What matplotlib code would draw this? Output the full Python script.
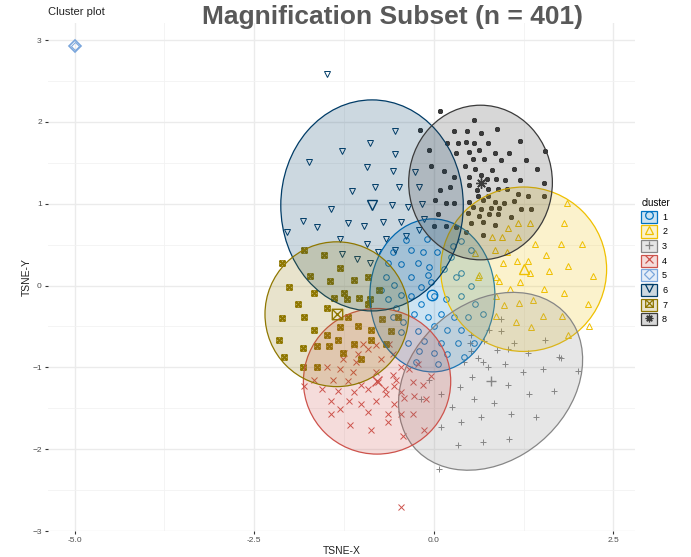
import matplotlib
matplotlib.use("Agg")
import matplotlib.pyplot as plt
from matplotlib.patches import Ellipse, Patch
from matplotlib.lines import Line2D
from matplotlib.path import Path
from matplotlib.colors import to_rgba

plt.rcParams['font.family'] = ['Liberation Sans', 'DejaVu Sans']

# t-SNE coordinates per cluster
c1_x = [-0.57, -0.32, -0.15, 0.04, -0.64, -0.46, -0.22, -0.07, -0.67, -0.56, -0.32, -0.08, 0.14, 0.31,
        -0.64, -0.46, -0.32, -0.18, 0.00, 0.17, 0.38, -0.57, -0.43, -0.28, -0.08, 0.10, 0.28, 0.47,
        -0.46, -0.22, 0.00, 0.19, 0.38, -0.36, -0.14, 0.10, 0.33, 0.00, 0.19, -0.21, 0.42, 0.56,
        0.24, 0.38, 0.52, 0.26, 0.38, 0.52, 0.58, 0.68, -0.10, -0.39, -0.18, -0.04, -0.74, -0.53, 0.06, -0.25]
c1_y = [0.41, 0.44, 0.41, 0.41, 0.28, 0.26, 0.28, 0.23, 0.11, 0.01, 0.10, 0.13, 0.20, 0.11,
        -0.17, -0.11, -0.13, -0.23, -0.13, -0.17, -0.13, -0.38, -0.45, -0.35, -0.38, -0.35, -0.38, -0.38,
        -0.57, -0.56, -0.50, -0.54, -0.54, -0.70, -0.68, -0.70, -0.70, -0.82, -0.84, -0.80, -0.87, -0.70,
        0.35, 0.16, -0.01, 0.48, 0.54, 0.44, -0.23, -0.35, 0.57, 0.56, -0.02, 0.04, -0.05, -0.27, -0.96, -0.93]

c2_x = [1.85, 1.17, 1.34, 1.81, 1.03, 0.81, 0.95, 1.17, 1.41, 1.77, 2.06, 0.58, 0.85, 1.02, 1.56,
        1.16, 1.31, 0.96, 1.34, 1.60, 1.87, 2.21, 0.61, 0.86, 1.20, 1.06, 1.53, 1.81, 0.97, 1.18,
        1.38, 2.14, 0.86, 1.14, 1.52, 1.78, 1.35, 1.87, 2.16, 0.63, 0.91, 0.86]
c2_y = [1.01, 0.77, 0.76, 0.77, 0.70, 0.59, 0.59, 0.60, 0.51, 0.51, 0.51, 0.40, 0.43, 0.41, 0.37,
        0.30, 0.30, 0.28, 0.15, 0.18, 0.24, 0.12, 0.11, 0.10, 0.04, -0.04, -0.04, -0.09, -0.24, -0.21,
        -0.18, -0.22, -0.37, -0.45, -0.37, -0.37, -0.51, -0.61, -0.49, 0.13, 0.05, -0.13]

c3_x = [0.52, 0.93, 1.11, 1.55, 0.88, 0.61, 0.99, 0.75, 1.24, 1.52, 1.77, 2.01, 0.53, 1.03, 0.36,
        1.67, 1.32, 0.10, 0.56, 0.84, 0.25, 0.65, 1.07, 1.42, 0.38, 0.10, 1.04, 0.68, 0.33, 0.07,
        0.42, 0.70, 0.50, 1.31, 1.74, 0.93, 0.77, 0.52, 1.03, -0.18, -0.07, 0.68]
c3_y = [-0.60, -0.56, -0.70, -0.67, -0.79, -0.89, -0.96, -1.00, -1.06, -1.02, -0.88, -1.05, -1.12, -1.21, -1.24,
        -1.29, -1.33, -1.33, -1.39, -1.43, -1.48, -1.61, -1.57, -1.61, -1.67, -1.73, -1.88, -1.91, -1.95, -2.24,
        -0.94, -0.68, -0.70, -0.82, -0.87, -0.41, -0.54, -0.80, -0.78, -1.39, -1.15, -0.94]

c4_x = [-1.11, -0.99, -0.81, -0.63, -1.25, -1.06, -0.92, -1.27, -1.09, -0.74, -0.57, -0.46,
        -1.48, -1.30, -1.13, -0.81, -0.57, -0.35, -1.41, -1.20, -1.02, -0.78, -0.56, -0.29,
        -1.55, -1.34, -1.11, -0.91, -0.67, -0.46, -0.28, -1.43, -1.18, -1.02, -0.81, -0.56,
        -1.30, -0.92, -0.64, -1.81, -1.67, -0.52, -0.68, -0.15, -0.04, -0.42, -0.29, -0.46,
        -0.64, -0.11, -0.14, -0.43, -0.22, -1.16, -0.88, -1.43, -0.46]
c4_y = [-0.73, -0.72, -0.73, -0.72, -0.82, -0.84, -0.78, -0.90, -0.93, -0.90, -0.84, -0.99,
        -1.00, -1.02, -1.06, -1.06, -1.09, -1.02, -1.15, -1.17, -1.21, -1.18, -1.23, -1.18,
        -1.27, -1.29, -1.30, -1.27, -1.33, -1.30, -1.35, -1.41, -1.41, -1.45, -1.41, -1.45,
        -1.51, -1.54, -1.57, -1.23, -1.15, -1.16, -1.26, -1.22, -1.11, -1.37, -1.57, -1.57,
        -1.67, -1.39, -1.76, -1.84, -0.96, -1.70, -1.76, -1.57, -2.71]

c5_x = [-4.99]
c5_y = [2.93]

c6_x = [-1.49, -0.54, -0.89, -1.28, -0.54, -1.74, -0.93, -0.57, -0.26, -0.82, -1.14, -0.49, -0.21,
        -1.43, -0.58, -0.36, -0.17, -1.82, -1.63, -1.20, -0.97, -0.71, -0.46, -0.21, -0.13,
        -2.05, -1.30, -0.93, -0.67, -0.39, -1.28, -1.07, -0.89, -0.54, -0.78]
c6_y = [2.59, 1.89, 1.74, 1.65, 1.61, 1.51, 1.45, 1.40, 1.39, 1.21, 1.16, 1.20, 1.20,
        0.94, 0.99, 0.96, 1.00, 0.79, 0.72, 0.77, 0.73, 0.78, 0.78, 0.68, 0.82,
        0.65, 0.57, 0.51, 0.57, 0.61, 0.39, 0.33, 0.28, 0.43, 0.41]

c7_x = [-1.80, -1.53, -2.12, -1.30, -1.73, -1.45, -1.11, -0.91, -2.01, -1.67, -1.25, -1.04, -0.77, -1.89,
        -1.48, -0.92, -2.12, -1.81, -1.20, -1.06, -0.88, -1.67, -1.30, -1.48, -1.34, -0.88, -1.62, -1.46,
        -1.11, -1.82, -1.82, -2.09, -1.63, -1.27, -0.60, -0.50, -0.72, -1.39, -1.21, -0.89, -2.16, -1.02, -0.67]
c7_y = [0.43, 0.37, 0.28, 0.22, 0.12, 0.06, 0.07, 0.11, -0.02, -0.09, -0.09, -0.15, -0.05, -0.22,
        -0.27, -0.23, -0.40, -0.39, -0.39, -0.50, -0.54, -0.54, -0.51, -0.60, -0.66, -0.66, -0.74, -0.74,
        -0.72, -0.76, -0.99, -0.87, -1.00, -0.82, -0.56, -0.38, -0.41, -0.15, -0.16, -0.16, -0.66, -0.90, -0.72]

c8_x = [0.08, 0.56, -0.19, 0.28, 0.46, 0.65, 0.88, 0.19, 0.33, 0.45, 0.56, 0.75, 1.20, -0.07, 0.31, 0.49,
        0.63, 0.85, 1.04, 1.55, 0.54, 0.70, 0.93, 1.28, 0.14, -0.04, 0.43, 0.57, 0.81, 1.11, 1.43, 0.28,
        0.49, 0.65, 0.74, 0.86, 0.99, 1.20, 1.53, 0.49, 0.60, 0.08, 0.22, 0.75, 0.89, 1.02, 0.75, 0.61,
        1.17, 1.31, 1.53, 0.01, 0.17, 0.28, 0.49, 0.68, 0.85, 0.97, 1.11, 0.54, 0.65, 0.79, 0.91, 1.21,
        1.35, 0.06, 0.47, 0.63, 0.77, 0.89, 1.07, 0.68, 0.85, 0.52, 0.00, 0.17, 0.31, 0.45, 0.68]
c8_y = [2.13, 2.02, 1.90, 1.89, 1.89, 1.87, 1.91, 1.74, 1.74, 1.76, 1.74, 1.74, 1.77, 1.66, 1.62, 1.63,
        1.66, 1.62, 1.62, 1.65, 1.55, 1.55, 1.54, 1.54, 1.40, 1.46, 1.46, 1.43, 1.41, 1.43, 1.43, 1.33,
        1.33, 1.35, 1.30, 1.30, 1.29, 1.29, 1.26, 1.23, 1.17, 1.17, 1.20, 1.18, 1.18, 1.18, 1.10, 1.09,
        1.12, 1.09, 1.09, 1.05, 1.01, 1.01, 1.02, 1.05, 1.02, 1.01, 1.04, 0.96, 0.94, 0.95, 0.95, 0.94,
        0.94, 0.88, 0.89, 0.85, 0.87, 0.87, 0.84, 0.78, 0.74, 0.76, 0.73, 0.73, 0.72, 0.66, 0.62]

clusters = ["1", "2", "3", "4", "5", "6", "7", "8"]
cluster_x = [c1_x, c2_x, c3_x, c4_x, c5_x, c6_x, c7_x, c8_x]
cluster_y = [c1_y, c2_y, c3_y, c4_y, c5_y, c6_y, c7_y, c8_y]

# cluster centres and 95% normal ellipses (width/height/angle in data units)
center_x = [-0.02, 1.25, 0.79, -0.79, -4.99, -0.86, -1.35, 0.65]
center_y = [-0.12, 0.20, -1.17, -1.17, 2.93, 0.98, -0.35, 1.26]
ell_w = [1.74, 2.31, 2.70, 2.05, 0.0, 2.54, 2.00, 2.00]
ell_h = [1.87, 2.01, 2.00, 1.78, 0.0, 2.58, 1.77, 1.89]
ell_angle = [0, 0, 28, 0, 0, 0, 0, 0]

# jco palette
colors = ["#0073C2", "#EFC000", "#868686", "#CD534C", "#7AA6DC", "#003C67", "#8F7700", "#3B3B3B"]

sq_cross = Path([(-1, -1), (1, -1), (1, 1), (-1, 1), (-1, -1), (-1, -1), (1, 1), (-1, 1), (1, -1)],
                [Path.MOVETO, Path.LINETO, Path.LINETO, Path.LINETO, Path.CLOSEPOLY,
                 Path.MOVETO, Path.LINETO, Path.MOVETO, Path.LINETO])
markers = ["o", "^", "+", "x", "D", "v", sq_cross, (8, 2, 0)]
point_ms = [4, 4, 4.5, 4, 4, 4, 3.8, 3.6]
point_mew = [0.7, 0.7, 0.7, 0.7, 0.7, 0.7, 1.0, 1.0]

fig = plt.figure(figsize=(6.91, 5.57), dpi=100)
ax = fig.add_axes([48 / 691, 1 - 531 / 557, 587 / 691, 508 / 557])

for i in range(len(clusters)):
    ax.plot(cluster_x[i], cluster_y[i], linestyle="none", marker=markers[i], ms=point_ms[i],
            mfc="none", mec=colors[i], mew=point_mew[i], zorder=2)

for i in range(len(clusters)):
    if ell_w[i] > 0:
        ax.add_patch(Ellipse((center_x[i], center_y[i]), ell_w[i], ell_h[i], angle=ell_angle[i],
                             facecolor=to_rgba(colors[i], 0.2), edgecolor=colors[i], lw=0.9, zorder=3))

for i in range(len(clusters)):
    if ell_w[i] > 0:
        ax.plot(center_x[i], center_y[i], linestyle="none", marker=markers[i], ms=7.5,
                mfc="none", mec=colors[i], mew=1.0, zorder=4)
    else:
        ax.plot(center_x[i], center_y[i], linestyle="none", marker=markers[i], ms=6,
                mfc="none", mec=colors[i], mew=1.2, zorder=4)

ax.set_xlim(-5.37, 2.80)
ax.set_ylim(-3.0, 3.21)
ax.set_xticks([-5.0, -2.5, 0.0, 2.5])
ax.set_xticklabels(["-5.0", "-2.5", "0.0", "2.5"])
ax.set_xticks([-3.75, -1.25, 1.25], minor=True)
ax.set_yticks([-3, -2, -1, 0, 1, 2, 3])
ax.set_yticks([-2.5, -1.5, -0.5, 0.5, 1.5, 2.5], minor=True)
ax.grid(True, which="major", color="#EBEBEB", lw=1.0, zorder=0)
ax.grid(True, which="minor", color="#F2F2F2", lw=0.6, zorder=0)
ax.set_axisbelow(True)
for s in ax.spines.values():
    s.set_visible(False)
ax.tick_params(which="major", length=2.5, width=0.8, color="#333333", labelsize=6,
               labelcolor="#4D4D4D", pad=2)
ax.tick_params(which="minor", length=0)

ax.set_xlabel("TSNE-X", fontsize=7.5, color="#222222", labelpad=1)
ax.set_ylabel("TSNE-Y", fontsize=7.5, color="#222222", labelpad=0)

fig.text(48 / 691, 1 - 12 / 557, "Cluster plot", fontsize=8, color="#222222", ha="left", va="center")
fig.text(0.568, 1 - 17 / 557, "Magnification Subset (n = 401)", fontsize=19, fontweight="bold",
         color="#595959", ha="center", va="center")

handles = []
for i in range(len(clusters)):
    box = Patch(facecolor=to_rgba(colors[i], 0.2), edgecolor=colors[i], lw=0.9)
    mk = Line2D([], [], linestyle="none", marker=markers[i], ms=5.5, mfc="none", mec=colors[i], mew=0.9)
    handles.append((box, mk))
leg = fig.legend(handles, clusters, title="cluster", loc="upper left",
                 bbox_to_anchor=(635 / 691, 1 - 192 / 557), frameon=False, fontsize=6.5,
                 title_fontsize=7, handlelength=1.7, handleheight=1.7, labelspacing=0.27,
                 handletextpad=0.6, borderpad=0.2, alignment="left")

fig.savefig("out.png", dpi=100)
